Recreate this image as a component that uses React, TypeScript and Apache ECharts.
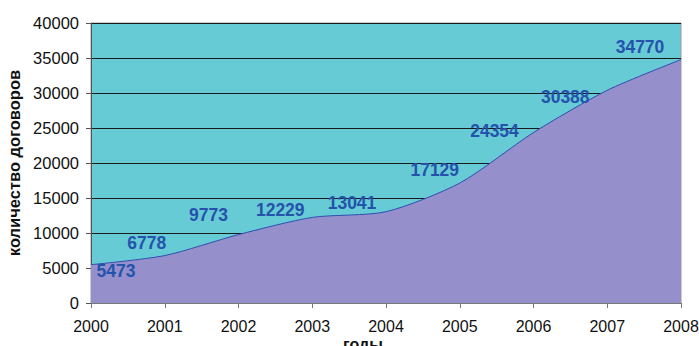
import React, { useEffect, useRef } from "react";
import * as echarts from "echarts";

// Years on the horizontal axis
const years = ["2000", "2001", "2002", "2003", "2004", "2005", "2006", "2007", "2008"];
// Number of contracts per year
const contracts = [5473, 6778, 9773, 12229, 13041, 17129, 24354, 30388, 34770];
// Value-axis range and step
const yMin = 0;
const yMax = 40000;
const yStep = 5000;

// Where each value label sits relative to its point (px)
const labelShift: [number, number][] = [
  [25, 6],
  [-18, -13],
  [-30, -20],
  [-32, -7],
  [-34, -9],
  [-25, -13],
  [-39, -2],
  [-42, 7],
  [-41, -13],
];

export default function App() {
  const ref = useRef<HTMLDivElement>(null);

  useEffect(() => {
    if (!ref.current) return;
    const chart = echarts.init(ref.current, null, { renderer: "svg" });
    const font = "Arial, 'Liberation Sans', sans-serif";

    chart.setOption({
      animation: false,
      backgroundColor: "#ffffff",
      grid: {
        left: 91,
        right: 18,
        top: 23,
        bottom: 43,
        containLabel: false,
        outerBoundsMode: "none",
        show: true,
        backgroundColor: "#67cbd6",
        borderColor: "#9a9a9a",
        borderWidth: 1,
      },
      xAxis: {
        type: "category",
        data: years,
        boundaryGap: false,
        name: "годы",
        nameLocation: "middle",
        nameGap: 33,
        nameMoveOverlap: false,
        nameTextStyle: {
          fontFamily: font,
          fontWeight: "bold",
          fontSize: 16,
          color: "#111",
          padding: [0, 46, 0, 0],
        },
        axisLine: { show: true, lineStyle: { color: "#777", width: 1 } },
        axisTick: { show: true, inside: false, length: 5, alignWithLabel: true, lineStyle: { color: "#777" } },
        axisLabel: { margin: 15, fontFamily: font, fontSize: 16, color: "#111" },
        splitLine: { show: false },
      },
      yAxis: {
        type: "value",
        min: yMin,
        max: yMax,
        interval: yStep,
        name: "количество договоров",
        nameLocation: "middle",
        nameGap: 66,
        nameTextStyle: {
          fontFamily: font,
          fontWeight: "bold",
          fontSize: 16.5,
          color: "#111",
        },
        axisLine: { show: true, lineStyle: { color: "#555", width: 1 } },
        axisTick: { show: true, inside: false, length: 5, lineStyle: { color: "#555" } },
        axisLabel: {
          margin: 12,
          fontFamily: font,
          fontSize: 16.5,
          color: "#111",
          formatter: (v: number) => String(v),
        },
        splitLine: { show: true, lineStyle: { color: "#1a1a1a", width: 1 } },
      },
      series: [
        {
          type: "line",
          data: contracts.map((v, i) => ({
            value: v,
            label: { position: labelShift[i] },
          })),
          smooth: 0.25,
          symbol: "circle",
          symbolSize: 0,
          showSymbol: true,
          itemStyle: { color: "rgba(0,0,0,0)", borderWidth: 0 },
          lineStyle: { color: "#2e4fae", width: 1 },
          areaStyle: { color: "#9590cc", opacity: 1 },
          label: {
            show: true,
            align: "center",
            verticalAlign: "middle",
            fontFamily: font,
            fontWeight: "bold",
            fontSize: 17.5,
            color: "#2552ab",
          },
          labelLayout: { hideOverlap: false },
          z: 3,
        },
      ],
    });

    return () => chart.dispose();
  }, []);

  return (
    <div
      ref={ref}
      style={{ position: "fixed", left: 0, top: 0, width: 699, height: 346 }}
    />
  );
}
